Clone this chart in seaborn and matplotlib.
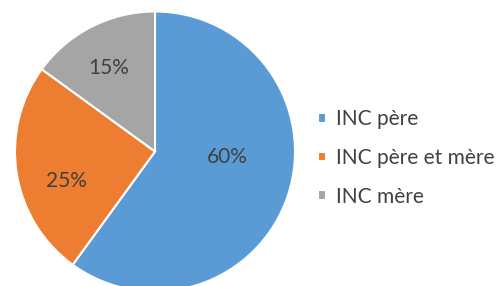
import matplotlib
matplotlib.use("Agg")
import matplotlib.pyplot as plt
import seaborn as sns

categories = ["INC père", "INC père et mère", "INC mère"]
values = [60, 25, 15]
colors = ["#5B9BD5", "#ED7D31", "#A5A5A5"]

sns.set_style("white")
plt.rcParams['font.family'] = ['Lato', 'DejaVu Sans']

fig = plt.figure(figsize=(5.01, 2.86), dpi=100)
# axes square in pixels, centre at (155, 151), radius 140 px
ax = fig.add_axes([15 / 501, (134.5 - 140) / 286, 280 / 501, 280 / 286])

wedges, texts, autotexts = ax.pie(
    values, colors=colors, startangle=90, counterclock=False,
    autopct='%1.0f%%', pctdistance=0.63, radius=1,
    wedgeprops=dict(edgecolor='white', linewidth=1.5),
    textprops=dict(color='#404040', fontsize=15))
ax.set_xlim(-1, 1)
ax.set_ylim(-1, 1)
ax.axis('off')

# Excel-like "best fit" label placement
label_pos = [(0.52, -0.04), (-0.63, -0.21), (-0.33, 0.60)]
for t, p in zip(autotexts, label_pos):
    t.set_position(p)

fig.legend(wedges, categories, loc='center left',
           bbox_to_anchor=(310 / 501, 1 - 158 / 286),
           frameon=False, fontsize=15, labelcolor='#404040',
           handlelength=0.35, handleheight=0.35, handletextpad=0.5,
           labelspacing=0.9, borderaxespad=0)

fig.savefig("out.png", dpi=100)
